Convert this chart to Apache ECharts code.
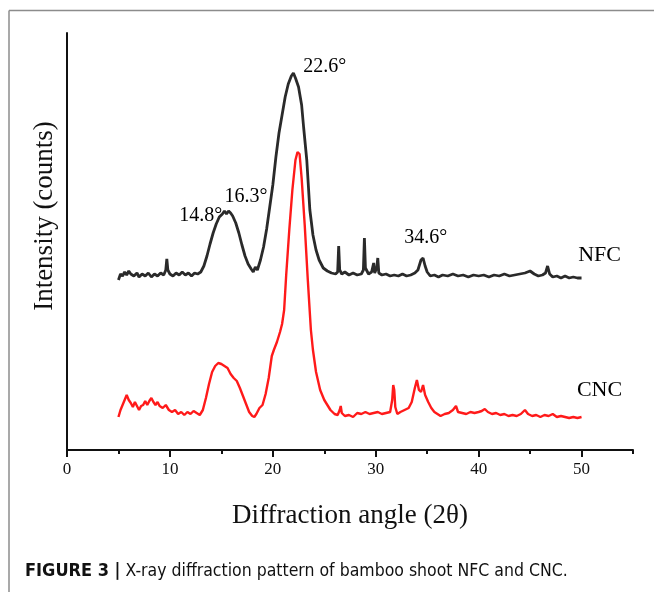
<!DOCTYPE html>
<html>
<head>
<meta charset="utf-8">
<script src="https://cdn.jsdelivr.net/npm/echarts@6/dist/echarts.min.js"></script>
<style>
  html, body { margin: 0; padding: 0; background: #fff; }
  #chart { width: 654px; height: 592px; }
</style>
</head>
<body>
<div id="chart"></div>
<script>
// 2θ values and intensities (arbitrary counts, offset stacked)
const nfcAngle = [5.0,5.2,5.4,5.6,5.8,6.0,6.2,6.5,6.8,7.0,7.3,7.6,7.9,8.2,8.5,8.8,9.1,9.4,9.6,9.7,9.8,10.0,10.3,10.6,10.9,11.2,11.5,11.8,12.1,12.4,12.7,13.0,13.3,13.6,13.9,14.2,14.5,14.8,15.1,15.3,15.5,15.7,15.9,16.1,16.4,16.7,17.0,17.3,17.6,17.9,18.1,18.3,18.5,18.8,19.1,19.4,19.7,20.0,20.3,20.6,20.9,21.2,21.5,21.8,22.0,22.2,22.5,22.8,23.0,23.3,23.6,23.9,24.2,24.5,24.9,25.3,25.7,26.1,26.3,26.4,26.5,26.7,27.0,27.4,27.8,28.2,28.6,28.8,28.9,29.0,29.3,29.6,29.8,29.9,30.1,30.2,30.3,30.6,31.0,31.4,31.8,32.2,32.6,33.0,33.4,33.8,34.1,34.4,34.6,34.8,35.0,35.3,35.7,36.1,36.5,37.0,37.5,38.0,38.5,39.0,39.5,40.0,40.5,41.0,41.5,42.0,42.5,43.0,43.5,44.0,44.5,45.0,45.4,45.8,46.2,46.5,46.7,46.9,47.2,47.6,48.0,48.4,48.8,49.2,49.6,50.0];
const nfcIntensity = [170,176,174,178,175,179,176,174,177,173,176,174,177,173,176,174,177,175,180,191,180,176,174,177,175,178,175,177,174,177,176,178,184,194,206,217,226,233,236,239,236,239,237,234,227,217,205,194,186,181,178,183,180,190,203,221,243,265,293,317,335,353,366,374,377,372,363,345,322,290,240,215,200,190,182,179,177,176,178,204,180,176,178,175,177,175,176,180,212,182,176,178,187,177,182,192,177,175,176,174,175,174,176,174,175,177,180,190,192,184,178,174,175,173,175,174,176,174,175,173,175,174,175,173,175,174,176,174,175,176,177,179,176,174,175,177,184,176,173,174,172,174,172,173,172,172];

const cncAngle = [5.0,5.2,5.4,5.6,5.8,6.0,6.2,6.4,6.6,6.8,7.0,7.2,7.4,7.6,7.8,8.0,8.2,8.4,8.6,8.8,9.0,9.3,9.6,9.9,10.2,10.5,10.8,11.1,11.4,11.7,12.0,12.3,12.6,12.9,13.2,13.5,13.8,14.1,14.4,14.7,15.0,15.3,15.6,15.9,16.2,16.5,16.8,17.1,17.4,17.7,18.0,18.2,18.4,18.7,19.0,19.3,19.6,19.9,20.1,20.4,20.7,20.9,21.1,21.3,21.6,21.9,22.2,22.4,22.6,22.8,23.1,23.4,23.7,23.9,24.2,24.6,25.0,25.3,25.6,26.0,26.3,26.5,26.6,26.7,27.0,27.4,27.8,28.2,28.6,29.0,29.4,29.8,30.2,30.6,31.0,31.4,31.6,31.7,31.8,31.9,32.1,32.4,32.8,33.2,33.5,33.8,34.0,34.2,34.4,34.6,34.8,35.1,35.4,35.7,36.0,36.3,36.7,37.1,37.5,37.8,38.0,38.4,38.8,39.2,39.6,40.0,40.3,40.6,40.9,41.3,41.7,42.1,42.5,42.9,43.3,43.7,44.1,44.5,44.8,45.2,45.6,46.0,46.4,46.8,47.2,47.6,48.0,48.4,48.8,49.2,49.6,50.0];
const cncIntensity = [33,40,45,50,55,50,47,43,48,44,40,44,45,49,45,49,52,48,45,48,44,42,45,40,38,40,36,38,35,38,36,39,37,35,40,52,66,78,84,87,86,84,82,76,72,69,62,54,46,38,34,33,36,42,45,56,72,94,100,108,118,126,140,175,220,260,290,298,296,272,225,170,120,100,78,60,50,45,40,36,35,40,44,37,34,35,33,37,36,38,36,37,38,36,37,38,50,65,60,43,36,38,40,42,48,62,70,60,58,65,55,48,42,38,36,34,36,37,40,44,38,37,36,38,37,38,39,41,38,36,37,35,36,34,35,34,36,40,36,34,35,33,35,34,36,33,34,33,32,33,32,33];

const xTicksMajor = [0, 10, 20, 30, 40, 50];

// peak annotations and curve names
const labelAngle = [25.05, 17.4, 13.0, 34.85, 51.75, 51.75];
const labelIntensity = [383, 253, 234, 212, 195, 60];
const labelText = ['22.6°', '16.3°', '14.8°', '34.6°', 'NFC', 'CNC'];
const labelSize = [20, 20, 20, 20, 22, 22];

const serif = '"Liberation Serif", "Times New Roman", serif';
const narrow = '"Liberation Sans Narrow", "DejaVu Sans Condensed", Arial, sans-serif';

const chart = echarts.init(document.getElementById('chart'));

const gridLeft = 67, gridWidth = 566, gridTop = 33, gridBottom = 142;

const option = {
  backgroundColor: '#fff',
  animation: false,
  grid: [
    { left: gridLeft, width: gridWidth, top: gridTop, bottom: gridBottom },
    // second grid only carries the long ticks at 0..50
    { left: gridLeft, width: gridWidth * 50 / 55, top: gridTop, bottom: gridBottom }
  ],
  xAxis: [
    {
      type: 'value', gridIndex: 0, min: 0, max: 55, interval: 5,
      axisLine: { show: true, lineStyle: { color: '#111', width: 2 } },
      axisTick: { show: true, length: 4, lineStyle: { color: '#111', width: 2 } },
      axisLabel: {
        color: '#111', fontFamily: serif, fontSize: 17, margin: 11,
        formatter: v => (xTicksMajor.indexOf(v) >= 0 ? String(v) : '')
      },
      splitLine: { show: false },
      name: 'Diffraction angle (2θ)', nameLocation: 'middle', nameGap: 52,
      nameTextStyle: { color: '#111', fontFamily: serif, fontSize: 27 }
    },
    {
      type: 'value', gridIndex: 1, min: 0, max: 50, interval: 10,
      axisLine: { show: false },
      axisTick: { show: true, length: 7, lineStyle: { color: '#111', width: 2 } },
      axisLabel: { show: false },
      splitLine: { show: false }
    }
  ],
  yAxis: [
    {
      type: 'value', gridIndex: 0, min: 0, max: 417,
      axisLine: { show: true, lineStyle: { color: '#111', width: 2 } },
      axisTick: { show: false }, axisLabel: { show: false }, splitLine: { show: false }
    },
    {
      type: 'value', gridIndex: 1, min: 0, max: 417, show: false
    }
  ],
  series: [
    {
      name: 'NFC', type: 'line', xAxisIndex: 0, yAxisIndex: 0,
      data: nfcAngle.map((a, i) => [a, nfcIntensity[i]]),
      showSymbol: false, symbol: 'none',
      lineStyle: { color: '#2a2a2a', width: 2.8 }
    },
    {
      name: 'CNC', type: 'line', xAxisIndex: 0, yAxisIndex: 0,
      data: cncAngle.map((a, i) => [a, cncIntensity[i]]),
      showSymbol: false, symbol: 'none',
      lineStyle: { color: '#ff1a1a', width: 2.4 }
    },
    {
      type: 'scatter', xAxisIndex: 0, yAxisIndex: 0, symbolSize: 0, silent: true,
      itemStyle: { opacity: 1 },
      data: labelAngle.map((a, i) => ({
        value: [a, labelIntensity[i]],
        label: {
          show: true, position: 'inside', formatter: labelText[i],
          color: '#000', fontFamily: serif, fontSize: labelSize[i]
        }
      }))
    }
  ],
  graphic: [
    { type: 'line', shape: { x1: 9, y1: 10.5, x2: 654, y2: 10.5 }, style: { stroke: '#8c8c8c', lineWidth: 1.5 } },
    { type: 'line', shape: { x1: 9, y1: 10.5, x2: 9, y2: 592 }, style: { stroke: '#8c8c8c', lineWidth: 1.5 } },
    {
      type: 'text', x: 45, y: 216, rotation: Math.PI / 2,
      style: {
        text: 'Intensity (counts)', fill: '#111', font: '27px ' + serif,
        align: 'center', verticalAlign: 'middle'
      }
    },
    {
      type: 'text', x: 25, y: 571,
      style: {
        text: '{b|FIGURE 3 |}{r| X-ray diffraction pattern of bamboo shoot NFC and CNC.}',
        fill: '#111', verticalAlign: 'middle',
        fontFamily: narrow, fontSize: 17.5,
        rich: {
          b: { fontWeight: 'bold', fontSize: 18, fill: '#111', fontFamily: narrow },
          r: { fontSize: 17.5, fill: '#111', fontFamily: narrow }
        }
      }
    }
  ]
};

chart.setOption(option);
</script>
</body>
</html>
